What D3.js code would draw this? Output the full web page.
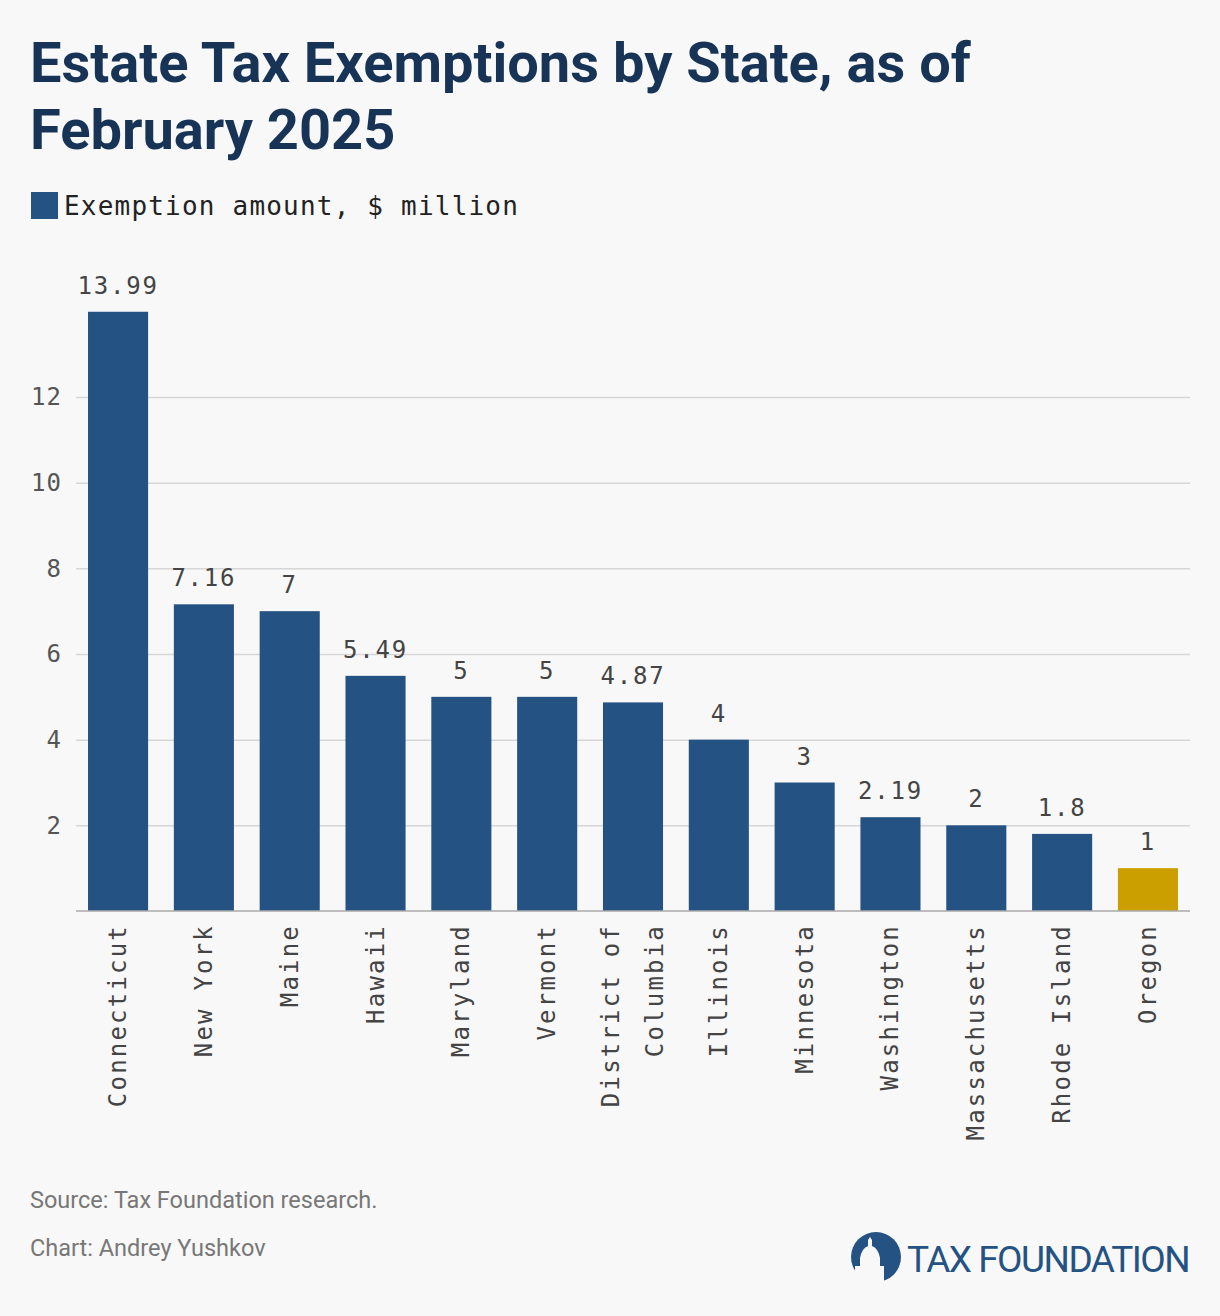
<!DOCTYPE html>
<html>
<head>
<meta charset="utf-8">
<script src="https://cdn.jsdelivr.net/npm/d3@7"></script>
<style>
  body { margin: 0; background: #f8f8f8; }
  svg { display: block; }
</style>
</head>
<body>
<svg id="chart" width="1220" height="1316"></svg>
<script>
// chart data
const states = ['Connecticut', 'New York', 'Maine', 'Hawaii', 'Maryland', 'Vermont',
  'District of Columbia', 'Illinois', 'Minnesota', 'Washington', 'Massachusetts',
  'Rhode Island', 'Oregon'];
const exemptions = [13.99, 7.16, 7, 5.49, 5, 5, 4.87, 4, 3, 2.19, 2, 1.8, 1];
const valueLabels = ['13.99', '7.16', '7', '5.49', '5', '5', '4.87', '4', '3', '2.19', '2', '1.8', '1'];
const yTicks = [2, 4, 6, 8, 10, 12];
const highlight = 'Oregon';

const mono = '"DejaVu Sans Mono", "Liberation Mono", monospace';
const svg = d3.select('#chart');

svg.append('rect').attr('width', 1220).attr('height', 1316).attr('fill', '#f8f8f8');

// title
svg.append('text').attr('x', 30).attr('y', 82)
  .attr('font-family', 'Roboto').attr('font-weight', 700).attr('font-size', 56)
  .attr('fill', '#173457').text('Estate Tax Exemptions by State, as of');
svg.append('text').attr('x', 30).attr('y', 149)
  .attr('font-family', 'Roboto').attr('font-weight', 700).attr('font-size', 56)
  .attr('fill', '#173457').text('February 2025');

// legend
svg.append('rect').attr('x', 31).attr('y', 192).attr('width', 27).attr('height', 27).attr('fill', '#245283');
svg.append('text').attr('x', 64).attr('y', 215)
  .attr('font-family', mono).attr('font-size', 26).attr('fill', '#222')
  .attr('letter-spacing', 1.2)
  .text('Exemption amount, $ million');

// scales
const x = d3.scaleBand().domain(states).range([76, 1190]).paddingInner(0.3).paddingOuter(0.14);
const y = d3.scaleLinear().domain([0, 12]).range([911, 397]);

// grid + y labels
const yAxis = svg.append('g').attr('transform', 'translate(76,0)')
  .call(d3.axisLeft(y).tickValues(yTicks).tickSize(-1114).tickPadding(14));
yAxis.select('.domain').remove();
yAxis.selectAll('line').attr('stroke', '#d6d6d6').attr('stroke-width', 1.5);
yAxis.selectAll('text').attr('font-family', mono).attr('font-size', 24).attr('fill', '#555')
  .attr('letter-spacing', 1);

// bars
svg.selectAll('.bar').data(states).join('rect')
  .attr('x', d => x(d))
  .attr('y', (d, i) => y(exemptions[i]))
  .attr('width', x.bandwidth())
  .attr('height', (d, i) => y(0) - y(exemptions[i]))
  .attr('fill', d => d === highlight ? '#cc9f00' : '#245283');

// value labels
svg.selectAll('.val').data(states).join('text')
  .attr('x', d => x(d) + x.bandwidth() / 2)
  .attr('y', (d, i) => y(exemptions[i]) - 18)
  .attr('text-anchor', 'middle')
  .attr('font-family', mono).attr('font-size', 24).attr('fill', '#444')
  .attr('letter-spacing', 1.8)
  .text((d, i) => valueLabels[i]);

// baseline
svg.append('line').attr('x1', 76).attr('x2', 1190).attr('y1', y(0)).attr('y2', y(0))
  .attr('stroke', '#aaa').attr('stroke-width', 1.5);

// x labels, rotated
const xl = svg.selectAll('.xl').data(states).join('text')
  .attr('transform', d => `translate(${x(d) + x.bandwidth() / 2},924) rotate(-90)`)
  .attr('text-anchor', 'end')
  .attr('font-family', mono).attr('font-size', 24).attr('fill', '#444')
  .attr('letter-spacing', 2.2);
xl.each(function (d) {
  const t = d3.select(this);
  if (d === 'District of Columbia') {
    t.append('tspan').attr('x', 0).attr('dy', -14).text('District of');
    t.append('tspan').attr('x', 0).attr('dy', 44).text('Columbia');
  } else {
    t.append('tspan').attr('x', 0).attr('dy', 8).text(d);
  }
});

// footer
svg.append('text').attr('x', 30).attr('y', 1208)
  .attr('font-family', 'Roboto').attr('font-size', 23.5).attr('fill', '#777')
  .text('Source: Tax Foundation research.');
svg.append('text').attr('x', 30).attr('y', 1256)
  .attr('font-family', 'Roboto').attr('font-size', 23.5).attr('fill', '#777')
  .text('Chart: Andrey Yushkov');

// logo
const logo = svg.append('g');
logo.append('circle').attr('cx', 876).attr('cy', 1257).attr('r', 25).attr('fill', '#245283');
logo.append('path')
  .attr('d', 'M855,1283 L855,1266 L860,1266 L860,1258 Q862,1248 868,1246 L868,1240 L870,1237 L872,1240 L872,1246 Q878,1248 880,1258 L880,1266 L884,1266 L884,1283 Z')
  .attr('fill', '#f8f8f8');
logo.append('text').attr('x', 907).attr('y', 1272)
  .attr('font-family', 'Roboto').attr('font-size', 37).attr('fill', '#245283')
  .attr('letter-spacing', -1.5).text('TAX FOUNDATION');
</script>
</body>
</html>
